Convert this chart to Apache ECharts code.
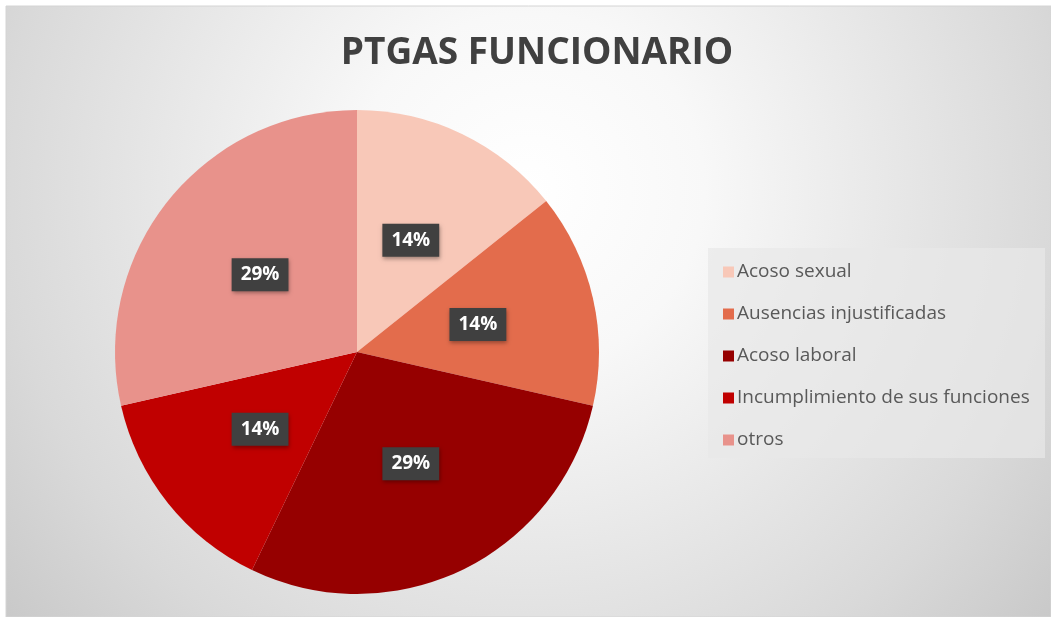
<!DOCTYPE html>
<html><head><meta charset="utf-8">
<script src="https://cdn.jsdelivr.net/npm/echarts@6/dist/echarts.min.js"></script>
<style>html,body{margin:0;padding:0;background:#fff}#c{width:1051px;height:617px}</style>
</head><body><div id="c"></div>
<script>
const categories = ["Acoso sexual","Ausencias injustificadas","Acoso laboral","Incumplimiento de sus funciones","otros"];
const values = [1,1,2,1,2];
const colors = ["#F8C8B8","#E36C4C","#960000","#C00000","#E8928B"];
const chart = echarts.init(document.getElementById('c'));
chart.setOption({
  animation:false,
  color: colors,
  graphic:[
    {type:'rect', z:-10, shape:{x:6,y:6,width:1045,height:611},
     style:{fill:new echarts.graphic.RadialGradient(0.5,0.3,1.15,[{offset:0,color:'#ffffff'},{offset:0.25,color:'#f8f8f8'},{offset:0.75,color:'#d9d9d9'},{offset:1,color:'#c6c6c6'}]), stroke:'#d4d4d4', lineWidth:1}},
    {type:'rect', z:-5, shape:{x:708,y:248,width:337,height:210},
     style:{fill:'rgba(232,232,232,0.7)'}}
  ],
  title:{text:'PTGAS FUNCIONARIO', left:532, top:30, textAlign:'center',
    textStyle:{fontFamily:'Open Sans', fontWeight:'bold', fontSize:37, color:'#404040'}},
  legend:{orient:'vertical', left:718, top:256, itemWidth:11, itemHeight:11, itemGap:20, icon:'rect',
    textStyle:{fontFamily:'Open Sans', fontSize:19, color:'#595959', lineHeight:22, padding:[0,0,0,-2]},
    data:categories},
  series:[{type:'pie', center:[357,352], radius:242, startAngle:90, clockwise:true,
    data:categories.map((n,i)=>({name:n, value:values[i]})),
    label:{show:true, position:'inside', formatter:p=>Math.round(p.percent)+'%',
      fontFamily:'Open Sans', fontWeight:'bold', fontSize:19, color:'#ffffff',
      backgroundColor:'#404040', padding:[7,9,7,9],
      shadowColor:'rgba(0,0,0,0.35)', shadowBlur:4, shadowOffsetX:1, shadowOffsetY:2},
    labelLine:{show:false}, emphasis:{disabled:true}}]
});
</script></body></html>
